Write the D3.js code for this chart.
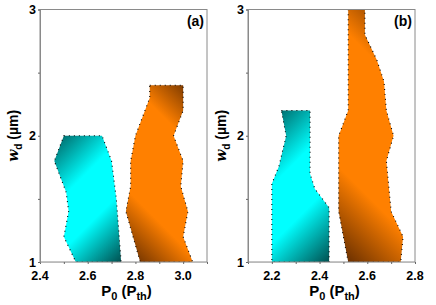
<!DOCTYPE html>
<html>
<head>
<meta charset="utf-8">
<script src="https://cdn.jsdelivr.net/npm/d3@7"></script>
<style>
  body { margin: 0; background: #fff; }
  text { font-family: Arial, "Liberation Sans", sans-serif; font-weight: bold; fill: #000; }
</style>
</head>
<body>
<div id="chart-area"></div>
<script>
// chart size
let width = 436,
	height = 305;

// panel (a) regions: [P0, wd]
const cyanA = [[2.50,2.0],[2.66,2.0],[2.70,1.8],[2.72,1.5],[2.74,1.0],[2.55,1.0],[2.50,1.2],[2.52,1.4],[2.51,1.55],[2.46,1.8]];
const orangeA = [[2.86,2.4],[3.00,2.4],[3.00,2.2],[2.96,2.0],[3.00,1.8],[2.99,1.6],[3.02,1.4],[3.00,1.2],[3.04,1.0],[2.82,1.0],[2.79,1.2],[2.76,1.4],[2.78,1.6],[2.78,1.8],[2.80,2.0],[2.84,2.2],[2.86,2.3]];

// panel (b) regions
const cyanB = [[2.24,2.2],[2.36,2.2],[2.36,1.7],[2.38,1.58],[2.44,1.43],[2.44,1.0],[2.20,1.0],[2.20,1.62],[2.23,1.76],[2.26,2.0]];
const orangeB = [[2.52,3.0],[2.59,3.0],[2.59,2.8],[2.64,2.6],[2.67,2.43],[2.68,2.2],[2.71,2.0],[2.68,1.8],[2.69,1.6],[2.70,1.4],[2.75,1.2],[2.74,1.0],[2.52,1.0],[2.50,1.2],[2.48,1.4],[2.48,1.6],[2.48,2.0],[2.52,2.2]];

const xTicksA = [2.4, 2.6, 2.8, 3.0];
const xTicksB = [2.2, 2.4, 2.6, 2.8];
const yTicks = [1, 2, 3];

const panels = [
	{label: "(a)", left: 40, domain: [2.4, 3.1], ticks: xTicksA, cyan: cyanA, orange: orangeA},
	{label: "(b)", left: 248, domain: [2.1, 2.8], ticks: xTicksB, cyan: cyanB, orange: orangeB}
];

// gradient colours: [end1, bright, end2]
const cyanColors = ["#005e5e", "#00ffff", "#005050"];
const orangeColors = ["#6a3000", "#ff8000", "#5c2800"];

let svg = d3.select("#chart-area").append("svg")
	.attr("width", width)
	.attr("height", height);

let defs = svg.append("defs");
let gid = 0;

// diagonal gradient in user space for one polygon
function makeGradient(pts, colors, dirX, stops) {
	let xs = pts.map(d => d[0]), ys = pts.map(d => d[1]);
	let x0 = d3.min(xs), x1 = d3.max(xs), y0 = d3.min(ys), y1 = d3.max(ys);
	let cx = (x0 + x1) / 2, cy = (y0 + y1) / 2;
	let half = ((x1 - x0) + (y1 - y0)) / 4;
	let id = "g" + (gid++);
	let g = defs.append("linearGradient").attr("id", id)
		.attr("gradientUnits", "userSpaceOnUse")
		.attr("x1", cx - dirX * half).attr("y1", cy - half)
		.attr("x2", cx + dirX * half).attr("y2", cy + half);
	g.append("stop").attr("offset", 0).attr("stop-color", colors[0]);
	g.append("stop").attr("offset", stops[0]).attr("stop-color", colors[1]);
	g.append("stop").attr("offset", stops[1]).attr("stop-color", colors[1]);
	g.append("stop").attr("offset", 1).attr("stop-color", colors[2]);
	return "url(#" + id + ")";
}

let plotTop = 9.5, plotBottom = 262, pw = 167;

panels.forEach(p => {
	let x = d3.scaleLinear().domain(p.domain).range([p.left, p.left + pw]);
	let y = d3.scaleLinear().domain([1, 3]).range([plotBottom, plotTop]);

	let line = d3.line().x(d => x(d[0])).y(d => y(d[1]));

	let shapes = [
		[p.cyan, cyanColors, 1, [0.36, 0.64]],
		[p.orange, orangeColors, -1, [0.25, 0.7]]
	];
	shapes.forEach(([pts, colors, dir, stops]) => {
		let px = pts.map(d => [x(d[0]), y(d[1])]);
		let fill = makeGradient(px, colors, dir, stops);
		svg.append("path")
			.attr("d", line(pts) + "Z")
			.attr("fill", fill)
			.attr("stroke", "none");
		svg.append("path")
			.attr("d", line(pts) + "Z")
			.attr("fill", "none")
			.attr("stroke", "#000")
			.attr("stroke-width", 1.1)
			.attr("stroke-dasharray", "1,4");
	});

	// frame
	svg.append("rect")
		.attr("x", p.left).attr("y", plotTop)
		.attr("width", pw).attr("height", plotBottom - plotTop)
		.attr("fill", "none").attr("stroke", "#8a8a8a").attr("stroke-width", 1);

	// x axis
	let xAxis = svg.append("g")
		.attr("transform", "translate(0," + plotBottom + ")")
		.call(d3.axisBottom(x).tickValues(d3.range(p.domain[0], p.domain[1] + 0.001, 0.1)).tickSize(2).tickFormat(""));
	xAxis.select(".domain").attr("stroke", "#bbb");
	xAxis.selectAll(".tick line").attr("stroke", "#666");
	svg.append("g").selectAll("text").data(p.ticks).join("text")
		.attr("x", d => x(d)).attr("y", 280)
		.attr("text-anchor", "middle")
		.style("font-size", "12.5px")
		.text(d => d.toFixed(1));

	// y axis
	let yAxis = svg.append("g")
		.attr("transform", "translate(" + p.left + ",0)")
		.call(d3.axisLeft(y).tickValues([1, 1.5, 2, 2.5, 3]).tickSize(2).tickFormat(""));
	yAxis.select(".domain").attr("stroke", "#8a8a8a");
	yAxis.selectAll(".tick line").attr("stroke", "#666");
	svg.append("g").selectAll("text").data(yTicks).join("text")
		.attr("x", p.left - 4).attr("y", d => y(d) + 4.5)
		.attr("text-anchor", "end")
		.style("font-size", "12.5px")
		.text(d => d);

	// panel label
	svg.append("text")
		.attr("x", p.left + pw - 3).attr("y", 26)
		.attr("text-anchor", "end")
		.style("font-size", "14px")
		.text(p.label);

	// x label
	let xl = svg.append("text")
		.attr("x", p.left + pw / 2 + 3).attr("y", 296)
		.attr("text-anchor", "middle")
		.style("font-size", "15px");
	xl.append("tspan").text("P");
	xl.append("tspan").attr("dy", 4).style("font-size", "11px").text("0");
	xl.append("tspan").attr("dy", -4).text(" (P");
	xl.append("tspan").attr("dy", 4).style("font-size", "11px").text("th");
	xl.append("tspan").attr("dy", -4).text(")");

	// y label
	let yl = svg.append("text")
		.attr("transform", "translate(" + (p.left - 22) + "," + y(2) + ") rotate(-90)")
		.attr("text-anchor", "middle")
		.style("font-size", "14px");
	yl.append("tspan").style("font-style", "italic").style("font-family", "'DejaVu Serif', serif").text("w");
	yl.append("tspan").attr("dy", 4).style("font-size", "10px").text("d");
	yl.append("tspan").attr("dy", -4).text(" (\u00b5m)");
});
</script>
</body>
</html>
